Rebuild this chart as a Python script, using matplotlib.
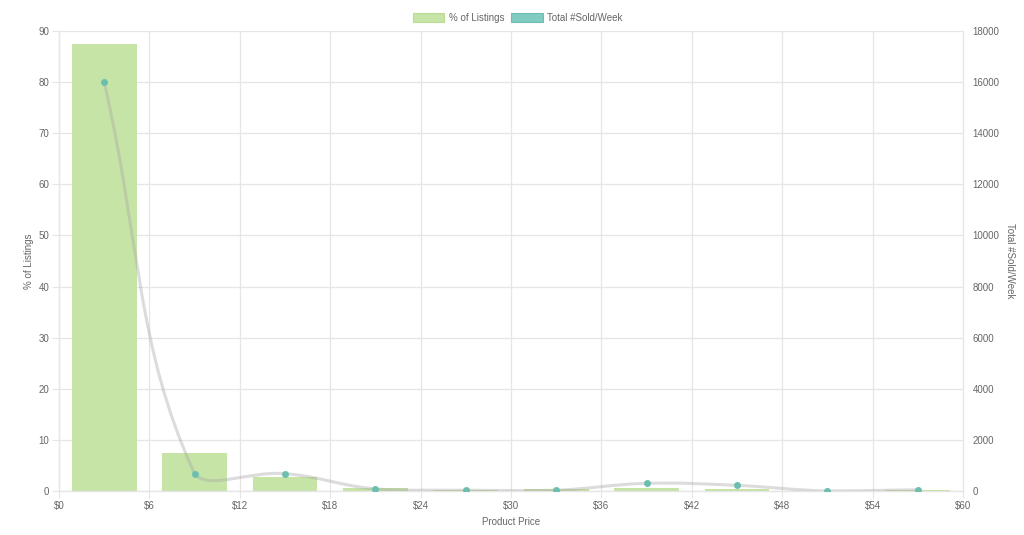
import numpy as np
import matplotlib
matplotlib.use("Agg")
import matplotlib.pyplot as plt
from matplotlib.path import Path
from matplotlib.patches import PathPatch, Patch

plt.rcParams["font.family"] = ["Liberation Sans", "DejaVu Sans"]

# price bucket centres ($) and values
price_mid = [3, 9, 15, 21, 27, 33, 39, 45, 51, 57]
pct_listings = [87.4, 7.4, 2.7, 0.5, 0.2, 0.3, 0.5, 0.4, 0.0, 0.2]
sold_week = [16000, 680, 680, 80, 30, 30, 300, 220, 0, 50]
x_ticks = [0, 6, 12, 18, 24, 30, 36, 42, 48, 54, 60]
x_tick_labels = [f"${v}" for v in x_ticks]

bar_color = "#c6e4a6"
point_color = "#6cbfb0"
legend_teal = "#80cbc2"
grid_color = "#e6e6e6"
text_color = "#666666"
fs = 7

fig = plt.figure(figsize=(10.24, 5.35), dpi=100)
ax = fig.add_axes([59 / 1024, 1 - 491 / 535, 904 / 1024, 460 / 535])
ax2 = ax.twinx()

ax.bar(price_mid, pct_listings, width=4.3, color=bar_color, zorder=2)
ax.set_xlim(0, 60)
ax.set_ylim(0, 90)
ax2.set_ylim(0, 18000)
ax.set_xticks(x_ticks)
ax.set_xticklabels(x_tick_labels)
ax.set_yticks(range(0, 91, 10))
ax2.set_yticks(range(0, 18001, 2000))

ax.grid(True, color=grid_color, linewidth=0.9, zorder=0)
ax.set_axisbelow(True)
for a in (ax, ax2):
    for s in a.spines.values():
        s.set_color(grid_color)
ax.spines["left"].set_color("#bdbdbd")
ax.spines["bottom"].set_color("#bdbdbd")
ax.spines["top"].set_visible(False)
ax2.spines["top"].set_visible(False)
ax.tick_params(axis="both", length=5, color=grid_color, labelcolor=text_color,
               labelsize=fs, pad=2)
ax2.tick_params(axis="y", length=0, labelcolor=text_color, labelsize=fs, pad=7)

# axis titles placed by hand so they stay inside the canvas
fig.text(511 / 1024, 1 - 522 / 535, "Product Price", color=text_color,
         fontsize=fs, ha="center", va="center")
fig.text(29 / 1024, 1 - 261 / 535, "% of Listings", color=text_color,
         fontsize=fs, ha="center", va="center", rotation=90)
fig.text(1010 / 1024, 1 - 261 / 535, "Total #Sold/Week", color=text_color,
         fontsize=fs, ha="center", va="center", rotation=270)

# smooth line (bezier with tension 0.4, like the web chart)
fig.canvas.draw()
pts = ax2.transData.transform(np.column_stack([price_mid, sold_week]))
n = len(pts)
tension = 0.4
ctrl_prev = pts.copy()
ctrl_next = pts.copy()
for i in range(n):
    p0 = pts[max(i - 1, 0)]
    p1 = pts[i]
    p2 = pts[min(i + 1, n - 1)]
    d01 = np.hypot(*(p1 - p0))
    d12 = np.hypot(*(p2 - p1))
    tot = d01 + d12
    s01 = d01 / tot if tot else 0
    s12 = d12 / tot if tot else 0
    ctrl_prev[i] = p1 - tension * s01 * (p2 - p0)
    ctrl_next[i] = p1 + tension * s12 * (p2 - p0)
inv = ax2.transData.inverted()
ctrl_prev = inv.transform(ctrl_prev)
ctrl_next = inv.transform(ctrl_next)
ctrl_prev[:, 1] = np.clip(ctrl_prev[:, 1], 0, 18000)
ctrl_next[:, 1] = np.clip(ctrl_next[:, 1], 0, 18000)
verts = [(price_mid[0], sold_week[0])]
codes = [Path.MOVETO]
for i in range(1, n):
    verts += [tuple(ctrl_next[i - 1]), tuple(ctrl_prev[i]), (price_mid[i], sold_week[i])]
    codes += [Path.CURVE4] * 3
ax2.add_patch(PathPatch(Path(verts, codes), facecolor="none",
                        edgecolor="#a8a8a8", linewidth=2.2, alpha=0.4, zorder=3))
ax2.scatter(price_mid, sold_week, s=16, color=point_color, zorder=4)

handles = [Patch(facecolor=bar_color, edgecolor="#b9dc95", linewidth=0.8),
           Patch(facecolor=legend_teal, edgecolor="#6cbfb0", linewidth=0.8)]
fig.legend(handles, ["% of Listings", "Total #Sold/Week"], loc="center",
           bbox_to_anchor=(518 / 1024, 1 - 18 / 535), ncol=2, frameon=False,
           fontsize=fs, handlelength=3.2, handleheight=1.0, columnspacing=0.7,
           handletextpad=0.5, labelcolor=text_color)

fig.savefig("out.png", dpi=100)
